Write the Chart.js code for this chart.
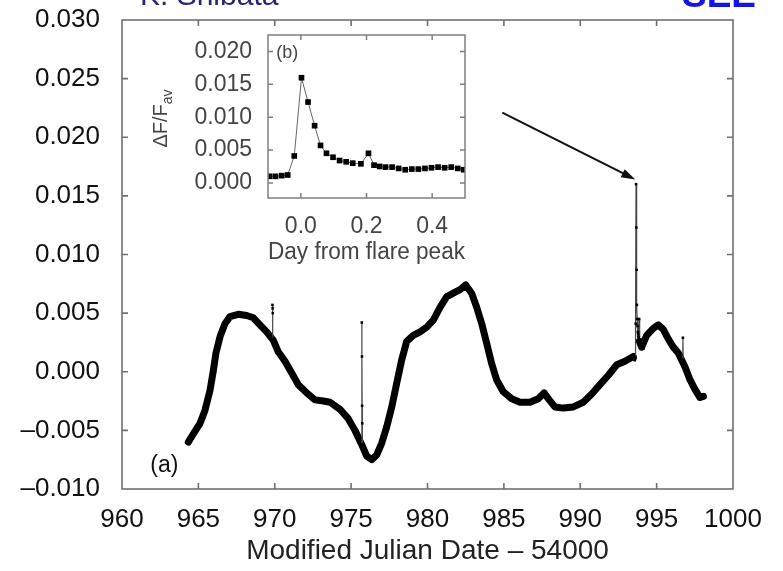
<!DOCTYPE html>
<html>
<head>
<meta charset="utf-8">
<script src="https://cdn.jsdelivr.net/npm/chart.js@4.4.1/dist/chart.umd.min.js"></script>
<style>
  html, body { margin: 0; padding: 0; background: #fff; overflow: hidden; }
  #wrap { position: relative; width: 783px; height: 571px; overflow: hidden; }
  #mainChart { position: absolute; left: 0; top: 0; }
  #insetChart { position: absolute; left: 130px; top: 30px; }
  .hdr { position: absolute; font-family: 'Liberation Sans', Arial, sans-serif; white-space: nowrap; }
  #author { left: 140px; top: -20px; font-size: 30px; line-height: 30px; color: #262673; }
  #tag { left: 682px; top: -24px; font-size: 37px; line-height: 37px; font-weight: bold; color: #1414e6; }
</style>
</head>
<body>
<div id="wrap">
  <canvas id="mainChart" width="783" height="571"></canvas>
  <canvas id="insetChart" width="350" height="245"></canvas>
  <div class="hdr" id="author">K. Shibata</div>
  <div class="hdr" id="tag">SEE</div>
</div>
<script>
// light curve: MJD - 54000 and relative flux change (null = flare gap)
const lcDay = [964.34, 964.67, 965.11, 965.43, 965.76, 965.98, 966.15, 966.42, 966.74, 967.07,
  967.61, 968.16, 968.60, 969.03, 969.47, 969.90, 970.23, 970.67, 971.11, 971.54,
  972.09, 972.63, 973.18, 973.62, 974.27, 974.81, 975.25, 975.69, 976.02, 976.35,
  976.67, 977.00, 977.33, 977.66, 977.98, 978.31, 978.64, 979.07, 979.51, 979.95,
  980.38, 980.82, 981.26, 981.69, 982.13, 982.50, 982.89, 983.22, 983.55, 983.88,
  984.20, 984.53, 984.96, 985.51, 986.06, 986.71, 987.25, 987.63, 987.97, 988.35,
  988.89, 989.55, 990.20, 990.75, 991.29, 991.84, 992.39, 992.93, 993.47, 993.60,
  993.87, 994.02, 994.35, 994.78, 995.11, 995.44, 995.76, 996.09, 996.42, 996.86,
  997.19, 997.51, 997.84, 998.06];
const lcFlux = [-0.0060, -0.0053, -0.0044, -0.0033, -0.0016, 0.0001, 0.0016, 0.0030, 0.0041, 0.0047,
  0.0049, 0.0048, 0.0046, 0.0040, 0.0034, 0.0027, 0.0017, 0.0009, -0.0001, -0.0011,
  -0.0018, -0.0024, -0.0025, -0.0026, -0.0032, -0.0040, -0.0050, -0.0062, -0.0072, -0.0075,
  -0.0071, -0.0061, -0.0047, -0.0030, -0.0010, 0.0010, 0.0026, 0.0031, 0.0034, 0.0038,
  0.0044, 0.0055, 0.0064, 0.0067, 0.0070, 0.0074, 0.0067, 0.0055, 0.0041, 0.0024,
  0.0007, -0.0007, -0.0017, -0.0023, -0.0026, -0.0026, -0.0023, -0.0018, -0.0024, -0.0030,
  -0.0031, -0.0030, -0.0026, -0.0019, -0.0011, -0.0003, 0.0006, 0.0009, 0.0013, null,
  0.0026, 0.0021, 0.0031, 0.0037, 0.0040, 0.0036, 0.0028, 0.0021, 0.0016, 0.0004,
  -0.0007, -0.0015, -0.0022, -0.0021];

// short spikes on top of the slow variation
const spikeADay = [969.84, 969.85, 969.86, 969.87, 969.88];
const spikeAFlux = [0.0028, 0.0057, 0.0054, 0.0050, 0.0028];
const spikeBDay = [975.69, 975.70, 975.71, 975.72, 975.73, 975.74];
const spikeBFlux = [-0.0062, 0.0042, 0.0013, -0.0029, -0.0044, -0.0062];
const spikeCDay = [996.70, 996.72, 996.74];
const spikeCFlux = [0.0010, 0.0029, 0.0010];

// flare profile, days from flare peak
const flarePeak = 993.65;
const flareDay = [-0.095, -0.077, -0.058, -0.040, -0.020, 0.002, 0.022, 0.042, 0.060, 0.078,
  0.098, 0.118, 0.138, 0.158, 0.183, 0.206, 0.223, 0.240, 0.258, 0.278,
  0.298, 0.318, 0.338, 0.358, 0.378, 0.398, 0.418, 0.438, 0.458, 0.478, 0.496];
const flareFlux = [0.0010, 0.0010, 0.0011, 0.0012, 0.0041, 0.0160, 0.0123, 0.0087, 0.0057, 0.0045,
  0.0039, 0.0034, 0.0032, 0.0030, 0.0029, 0.0045, 0.0027, 0.0025, 0.0024, 0.0024,
  0.0022, 0.0020, 0.0021, 0.0021, 0.0022, 0.0023, 0.0024, 0.0023, 0.0024, 0.0022, 0.0020];

const insetXTicks = [0, 0.2, 0.4];
const insetYTicks = [0, 0.005, 0.010, 0.015, 0.020];

const FONT = "'Liberation Sans', Arial, sans-serif";
const pts = (xs, ys) => xs.map((x, i) => ({ x: x, y: ys[i] }));

function fmt3(v) {
  if (Math.abs(v) < 1e-9) return '0.000';
  return (v < 0 ? '\u2013' : '') + Math.abs(v).toFixed(3);
}

// fixed axis boxes, no extra room for overhanging labels
function fixX(h) {
  return s => { s.height = h; s.paddingLeft = 0; s.paddingRight = 0; };
}
function fixY(w) {
  return s => { s.width = w; s.paddingTop = 0; s.paddingBottom = 0; };
}

// box around the plot with gnuplot-style inward ticks on all four sides
const frameTicks = {
  id: 'frameTicks',
  afterDatasetsDraw(chart, args, opts) {
    const { ctx, chartArea: a } = chart;
    const xs = chart.scales.x, ys = chart.scales.y;
    ctx.save();
    ctx.strokeStyle = opts.color;
    ctx.lineWidth = opts.lineWidth;
    ctx.beginPath();
    xs.ticks.forEach(t => {
      const px = xs.getPixelForValue(t.value);
      if (px <= a.left + 2 || px >= a.right - 2) return;
      ctx.moveTo(px, a.bottom); ctx.lineTo(px, a.bottom - opts.len);
      ctx.moveTo(px, a.top); ctx.lineTo(px, a.top + opts.len);
    });
    ys.ticks.forEach(t => {
      const py = ys.getPixelForValue(t.value);
      if (py <= a.top + 2 || py >= a.bottom - 2) return;
      ctx.moveTo(a.left, py); ctx.lineTo(a.left + opts.len, py);
      ctx.moveTo(a.right, py); ctx.lineTo(a.right - opts.len, py);
    });
    ctx.stroke();
    ctx.strokeRect(a.left, a.top, a.right - a.left, a.bottom - a.top);
    ctx.restore();
  }
};

// arrow from the inset to the flare, and the panel label
const mainNotes = {
  id: 'mainNotes',
  afterDatasetsDraw(chart) {
    const { ctx, scales: { x, y } } = chart;
    const x0 = x.getPixelForValue(984.9), y0 = y.getPixelForValue(0.0221);
    const x1 = x.getPixelForValue(993.6), y1 = y.getPixelForValue(0.0164);
    const ang = Math.atan2(y1 - y0, x1 - x0);
    ctx.save();
    ctx.strokeStyle = '#111';
    ctx.fillStyle = '#111';
    ctx.lineWidth = 2;
    ctx.beginPath();
    ctx.moveTo(x0, y0);
    ctx.lineTo(x1 - 10 * Math.cos(ang), y1 - 10 * Math.sin(ang));
    ctx.stroke();
    ctx.beginPath();
    ctx.moveTo(x1, y1);
    ctx.lineTo(x1 - 14 * Math.cos(ang) + 4.5 * Math.sin(ang), y1 - 14 * Math.sin(ang) - 4.5 * Math.cos(ang));
    ctx.lineTo(x1 - 14 * Math.cos(ang) - 4.5 * Math.sin(ang), y1 - 14 * Math.sin(ang) + 4.5 * Math.cos(ang));
    ctx.closePath();
    ctx.fill();
    ctx.font = '23px ' + FONT;
    ctx.textAlign = 'left';
    ctx.textBaseline = 'middle';
    ctx.fillText('(a)', x.getPixelForValue(961.85), y.getPixelForValue(-0.0080));
    ctx.restore();
  }
};

// panel label and the rotated y title with its subscript
const insetNotes = {
  id: 'insetNotes',
  afterDatasetsDraw(chart) {
    const { ctx, chartArea: a, scales: { x, y } } = chart;
    ctx.save();
    ctx.fillStyle = '#444';
    ctx.font = '18px ' + FONT;
    ctx.textAlign = 'left';
    ctx.textBaseline = 'middle';
    ctx.fillText('(b)', x.getPixelForValue(-0.075), y.getPixelForValue(0.0198));

    ctx.translate(a.left - 108, (a.top + a.bottom) / 2 + 2);
    ctx.rotate(-Math.PI / 2);
    ctx.textBaseline = 'alphabetic';
    ctx.font = '20px ' + FONT;
    const main = '\u0394F/F';
    const wMain = ctx.measureText(main).width;
    ctx.font = '14px ' + FONT;
    const wSub = ctx.measureText('av').width;
    const start = -(wMain + wSub) / 2;
    ctx.font = '20px ' + FONT;
    ctx.fillText(main, start, 7);
    ctx.font = '14px ' + FONT;
    ctx.fillText('av', start + wMain, 12);
    ctx.restore();
  }
};

const thinStyle = {
  showLine: true,
  borderColor: '#444',
  borderWidth: 1.2,
  pointStyle: 'rect',
  pointRadius: 1.8,
  pointBackgroundColor: '#000',
  pointBorderWidth: 0,
  order: 0
};

new Chart(document.getElementById('mainChart'), {
  type: 'scatter',
  data: {
    datasets: [
      Object.assign({ data: pts(spikeADay, spikeAFlux) }, thinStyle),
      Object.assign({ data: pts(spikeBDay, spikeBFlux) }, thinStyle),
      Object.assign({ data: pts(spikeCDay, spikeCFlux) }, thinStyle),
      Object.assign({ data: flareDay.map((d, i) => ({ x: flarePeak + d, y: flareFlux[i] })) }, thinStyle),
      {
        data: pts(lcDay, lcFlux),
        showLine: true,
        spanGaps: false,
        borderColor: '#000',
        borderWidth: 7,
        borderJoinStyle: 'round',
        borderCapStyle: 'round',
        pointRadius: 0,
        order: 1
      }
    ]
  },
  options: {
    responsive: false,
    animation: false,
    devicePixelRatio: 1,
    layout: { padding: { left: 0, top: 20, right: 50, bottom: 0 } },
    plugins: {
      legend: { display: false },
      tooltip: { enabled: false },
      frameTicks: { color: '#707070', lineWidth: 1.6, len: 6 }
    },
    scales: {
      x: {
        type: 'linear',
        min: 960,
        max: 1000,
        grid: { display: false, drawTicks: false },
        border: { display: false },
        ticks: {
          stepSize: 5,
          padding: 15,
          maxRotation: 0,
          autoSkip: false,
          color: '#111',
          font: { family: FONT, size: 26 },
          callback: v => String(Math.round(v))
        },
        title: {
          display: true,
          text: 'Modified Julian Date \u2013 54000',
          color: '#222',
          font: { family: FONT, size: 28 },
          padding: { top: 0, bottom: 3 }
        },
        afterFit: fixX(82)
      },
      y: {
        type: 'linear',
        min: -0.010,
        max: 0.030,
        grid: { display: false, drawTicks: false },
        border: { display: false },
        ticks: {
          stepSize: 0.005,
          padding: 22,
          color: '#111',
          font: { family: FONT, size: 26 },
          callback: v => fmt3(v)
        },
        afterFit: fixY(122)
      }
    }
  },
  plugins: [frameTicks, mainNotes]
});

new Chart(document.getElementById('insetChart'), {
  type: 'scatter',
  data: {
    datasets: [{
      data: pts(flareDay, flareFlux),
      showLine: true,
      borderColor: '#666',
      borderWidth: 1,
      pointStyle: 'rect',
      pointRadius: 4,
      pointBackgroundColor: '#000',
      pointBorderColor: '#000',
      pointBorderWidth: 0
    }]
  },
  options: {
    responsive: false,
    animation: false,
    devicePixelRatio: 1,
    layout: { padding: { left: 0, top: 5, right: 15, bottom: 0 } },
    plugins: {
      legend: { display: false },
      tooltip: { enabled: false },
      frameTicks: { color: '#808080', lineWidth: 1.5, len: 5 }
    },
    scales: {
      x: {
        type: 'linear',
        min: -0.1,
        max: 0.5,
        grid: { display: false, drawTicks: false },
        border: { display: false },
        afterBuildTicks: s => { s.ticks = insetXTicks.map(v => ({ value: v })); },
        ticks: {
          padding: 15,
          maxRotation: 0,
          color: '#444',
          font: { family: FONT, size: 23 },
          callback: v => v.toFixed(1)
        },
        title: {
          display: true,
          text: 'Day from flare peak',
          color: '#444',
          font: { family: FONT, size: 23 },
          padding: { top: 0, bottom: 9 }
        },
        afterFit: fixX(77)
      },
      y: {
        type: 'linear',
        min: -0.0023,
        max: 0.0225,
        grid: { display: false, drawTicks: false },
        border: { display: false },
        afterBuildTicks: s => { s.ticks = insetYTicks.map(v => ({ value: v })); },
        ticks: {
          padding: 16,
          color: '#444',
          font: { family: FONT, size: 23 },
          callback: v => fmt3(v)
        },
        afterFit: fixY(138)
      }
    }
  },
  plugins: [frameTicks, insetNotes]
});
</script>
</body>
</html>
